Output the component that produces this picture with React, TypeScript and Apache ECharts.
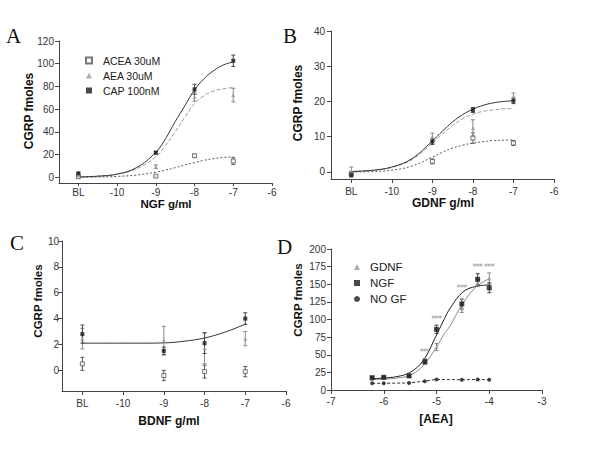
import React, { useEffect, useRef } from 'react';
import * as echarts from 'echarts';

const FONT = "'Liberation Sans', Arial, Helvetica, sans-serif";
const SERIF = "'Liberation Serif', 'Times New Roman', serif";

// ---------- Panels A-C: growth-factor concentration (log g/ml); BL drawn at -11 ----------
const doseX = [-11, -9, -8, -7];
const doseTicks = [-11, -10, -9, -8, -7, -6];
const fitX = [-11, -10.5, -10, -9.5, -9, -8.75, -8.5, -8.25, -8, -7.75, -7.5, -7.25, -7];

// Panel A (NGF)
const aceaA = [0.5, 1.1, 19, 14.3];
const aceaAErr = [0.8, 0.8, 1.2, 3];
const aeaA = [1.5, 9.3, 71, 72.4];
const aeaAErr = [0.8, 1.6, 4, 6];
const capA = [3.5, 21.7, 77.5, 102.6];
const capAErr = [0.8, 1.2, 4.4, 5];
const capFitA = [0.3, 1, 2.8, 8.5, 22, 34, 49, 63, 77, 87, 94, 99, 101.5];
const aeaFitA = [0.3, 1, 2.7, 7.5, 18, 28, 40, 53, 65, 72, 76, 78, 79];
const aceaFitA = [0.1, 0.3, 0.8, 2, 4.5, 6.3, 8.5, 10.8, 13, 15, 16.5, 17.5, 18];
const yTicksA = [0, 20, 40, 60, 80, 100, 120];

// Panel B (GDNF)
const aceaB = [-0.5, 3, 9.6, 8.2];
const aceaBErr = [0.6, 0.7, 1.5, 0.7];
const aeaB = [0, 10, 12.5, 21.4];
const aeaBErr = [1.4, 1, 2.3, 1];
const capB = [-0.8, 8.6, 17.6, 20.2];
const capBErr = [0.6, 0.8, 0.7, 0.8];
const capFitB = [0.15, 0.45, 1.4, 3.8, 8.8, 11.6, 14.2, 16.3, 17.8, 18.9, 19.6, 20, 20.2];
const aeaFitB = [0.15, 0.4, 1.3, 3.5, 8.2, 10.8, 13.2, 15.1, 16.4, 17.2, 17.6, 17.9, 18];
const aceaFitB = [0, 0.1, 0.5, 1.7, 4.2, 5.6, 6.8, 7.6, 8.2, 8.6, 8.9, 9, 9.1];
const yTicksB = [0, 10, 20, 30, 40];

// Panel C (BDNF)
const aceaC = [0.5, -0.4, -0.1, -0.1];
const aceaCErr = [0.5, 0.4, 0.5, 0.4];
const aeaC = [2.45, 2.3, 1.7, 2.45];
const aeaCErr = [0.8, 1.1, 1.2, 0.55];
const capC = [2.8, 1.5, 2.1, 4.0];
const capCErr = [0.7, 0.3, 0.8, 0.45];
const fitXC = [-11, -10, -9.5, -9, -8.5, -8, -7.5, -7];
const capFitC = [2.1, 2.1, 2.1, 2.12, 2.25, 2.5, 2.95, 3.57];
const yTicksC = [0, 2, 4, 6, 8, 10];

// ---------- Panel D: [AEA] (log M) ----------
const aeaX = [-6.22, -6, -5.52, -5.22, -5, -4.52, -4.22, -4];
const gdnfD = [16, 17.5, 22, 42, 61, 116, 152, 158];
const gdnfDErr = [1.5, 1.5, 2, 3, 5, 6, 5, 8];
const ngfD = [17.5, 18, 20, 40, 86, 122, 157, 145];
const ngfDErr = [1.5, 1.5, 2, 3, 6, 7, 8, 7];
const nogfD = [9.5, 9.5, 10, 12.5, 15, 14.5, 15, 14.5];
const fitXD = [-6.22, -6, -5.75, -5.5, -5.25, -5, -4.85, -4.75, -4.5, -4.25, -4];
const ngfFitD = [16, 17, 19, 25, 42, 78, 101, 115, 139, 147, 149];
const gdnfFitD = [15, 15.5, 17, 21, 35, 61, 80, 90, 123, 146, 158];
const sigX = [-5.22, -5, -4.52, -4.22, -4];
const sigY = [57, 104, 147, 177, 177];
const sigLabel = '###';

const DARK = '#1a1a1a';
const MID = '#555555';

const pairs = (xs: number[], ys: number[]) => xs.map((x, i) => [x, ys[i]]);
const triples = (xs: number[], ys: number[], es: number[]) => xs.map((x, i) => [x, ys[i], es[i]]);

const errRender = (color: string) => (params: any, api: any) => {
  const x = api.value(0);
  const y = api.value(1);
  const e = api.value(2);
  const p1 = api.coord([x, y + e]);
  const p2 = api.coord([x, y - e]);
  const w = 2;
  const style = { stroke: color, lineWidth: 1 };
  return {
    type: 'group',
    children: [
      { type: 'line', shape: { x1: p1[0], y1: p1[1], x2: p2[0], y2: p2[1] }, style },
      { type: 'line', shape: { x1: p1[0] - w, y1: p1[1], x2: p1[0] + w, y2: p1[1] }, style },
      { type: 'line', shape: { x1: p2[0] - w, y1: p2[1], x2: p2[0] + w, y2: p2[1] }, style },
    ],
  };
};

const errSeries = (idx: number, xs: number[], ys: number[], es: number[], color: string) => ({
  type: 'custom',
  xAxisIndex: idx,
  yAxisIndex: idx,
  renderItem: errRender(color),
  data: triples(xs, ys, es),
  encode: { x: 0, y: 1 },
  silent: true,
  z: 2,
});

const fitSeries = (idx: number, xs: number[], ys: number[], color: string, type: any, name: string) => ({
  name,
  type: 'line',
  xAxisIndex: idx,
  yAxisIndex: idx,
  data: pairs(xs, ys),
  smooth: 0.4,
  showSymbol: false,
  lineStyle: { color, width: 1, type },
  z: 1,
  silent: true,
});

const markerStyles: Record<string, any> = {
  acea: { symbol: 'rect', symbolSize: 4, itemStyle: { color: '#ffffff', borderColor: '#555', borderWidth: 1 } },
  aea: { symbol: 'triangle', symbolSize: 4, itemStyle: { color: '#999' } },
  cap: { symbol: 'rect', symbolSize: 4, itemStyle: { color: DARK } },
  gdnf: { symbol: 'triangle', symbolSize: 4, itemStyle: { color: '#999' } },
  ngf: { symbol: 'rect', symbolSize: 5, itemStyle: { color: DARK } },
  nogf: { symbol: 'circle', symbolSize: 4, itemStyle: { color: DARK } },
};

const pointSeries = (idx: number, name: string, kind: string, xs: number[], ys: number[]) => ({
  name,
  type: 'scatter',
  xAxisIndex: idx,
  yAxisIndex: idx,
  data: pairs(xs, ys),
  ...markerStyles[kind],
  z: 3,
});

const xAxisFor = (idx: number, min: number, max: number, ticks: number[], margin: number, bl: boolean, tickLen = 4) => ({
  type: 'value',
  gridIndex: idx,
  min,
  max,
  axisLine: { show: true, onZero: false, lineStyle: { color: '#444', width: 1 } },
  axisTick: { show: true, customValues: ticks, length: tickLen, lineStyle: { color: '#444' } },
  axisLabel: {
    customValues: ticks,
    margin,
    fontSize: 10,
    fontFamily: FONT,
    color: '#333',
    formatter: (v: number) => (bl && v === -11 ? 'BL' : String(v)),
  },
  splitLine: { show: false },
});

const yAxisFor = (idx: number, min: number, max: number, ticks: number[], margin: number) => ({
  type: 'value',
  gridIndex: idx,
  min,
  max,
  axisLine: { show: true, onZero: false, lineStyle: { color: '#444', width: 1 } },
  axisTick: { show: true, customValues: ticks, length: 4, lineStyle: { color: '#444' } },
  axisLabel: { customValues: ticks, margin, fontSize: 10, fontFamily: FONT, color: '#333' },
  splitLine: { show: false },
});

const titleText = (text: string, x: number, y: number, rotate: boolean, size: number) => ({
  type: 'text',
  x,
  y,
  rotation: rotate ? Math.PI / 2 : 0,
  style: {
    text,
    fontFamily: FONT,
    fontWeight: 'bold',
    fontSize: size,
    fill: '#111',
    align: 'center',
    verticalAlign: 'middle',
  },
  silent: true,
});

const letter = (text: string, x: number, y: number) => ({
  type: 'text',
  x,
  y,
  style: { text, fontFamily: SERIF, fontSize: 21, fill: '#111', align: 'left', verticalAlign: 'middle' },
  silent: true,
});

export default function App() {
  const ref = useRef<HTMLDivElement>(null);

  useEffect(() => {
    if (!ref.current) return;
    const chart = echarts.init(ref.current, null, { renderer: 'svg' });
    const option: any = {
      animation: false,
      backgroundColor: '#ffffff',
      grid: [
        { left: 59, top: 41, width: 213, height: 142 },
        { left: 331, top: 31, width: 223, height: 148 },
        { left: 62, top: 241, width: 224, height: 150 },
        { left: 331, top: 249, width: 211, height: 141 },
      ],
      xAxis: [
        xAxisFor(0, -11.5, -6, doseTicks, 4, true, 3),
        xAxisFor(1, -11.5, -6, doseTicks, 7, true),
        xAxisFor(2, -11.5, -6, doseTicks, 7, true),
        xAxisFor(3, -7, -3, [-7, -6, -5, -4, -3], 6, false),
      ],
      yAxis: [
        yAxisFor(0, -5, 120, yTicksA, 5),
        yAxisFor(1, -2, 40, yTicksB, 6),
        yAxisFor(2, -1.6, 10, yTicksC, 3),
        yAxisFor(3, 0, 200, [0, 25, 50, 75, 100, 125, 150, 175, 200], 5),
      ],
      legend: [
        {
          data: ['ACEA 30uM', 'AEA 30uM', 'CAP 100nM'],
          orient: 'vertical',
          left: 85,
          top: 55,
          padding: 0,
          itemWidth: 6,
          itemHeight: 6,
          itemGap: 4,
          selectedMode: false,
          textStyle: { fontSize: 10.5, fontFamily: FONT, color: '#222', padding: [0, 0, 0, 6] },
        },
        {
          data: ['GDNF', 'NGF', 'NO GF'],
          orient: 'vertical',
          left: 354,
          top: 261,
          padding: 0,
          itemWidth: 6,
          itemHeight: 6,
          itemGap: 4,
          selectedMode: false,
          textStyle: { fontSize: 11.5, fontFamily: FONT, color: '#222', padding: [0, 0, 0, 5] },
        },
      ],
      graphic: [
        letter('A', 6, 36),
        letter('B', 283, 36),
        letter('C', 10, 243),
        letter('D', 277, 247),
        titleText('CGRP fmoles', 29, 111, true, 12),
        titleText('NGF g/ml', 166, 204, false, 11.5),
        titleText('CGRP fmoles', 298, 103, true, 12),
        titleText('GDNF g/ml', 443, 203, false, 12),
        titleText('CGRP fmoles', 38, 301, true, 11.5),
        titleText('BDNF g/ml', 169, 421, false, 12),
        titleText('CGRP fmoles', 298, 300, true, 11.5),
        titleText('[AEA]', 436, 419, false, 12),
      ],
      series: [
        // Panel A
        fitSeries(0, fitX, aceaFitA, MID, [2, 2], 'fitA1'),
        fitSeries(0, fitX, aeaFitA, '#9a9a9a', [4, 2], 'fitA2'),
        fitSeries(0, fitX, capFitA, '#333', 'solid', 'fitA3'),
        errSeries(0, doseX, aceaA, aceaAErr, '#666'),
        errSeries(0, doseX, aeaA, aeaAErr, '#888'),
        errSeries(0, doseX, capA, capAErr, '#444'),
        pointSeries(0, 'ACEA 30uM', 'acea', doseX, aceaA),
        pointSeries(0, 'AEA 30uM', 'aea', doseX, aeaA),
        pointSeries(0, 'CAP 100nM', 'cap', doseX, capA),
        // Panel B
        fitSeries(1, fitX, aceaFitB, MID, [2, 2], 'fitB1'),
        fitSeries(1, fitX, aeaFitB, '#9a9a9a', [4, 2], 'fitB2'),
        fitSeries(1, fitX, capFitB, '#333', 'solid', 'fitB3'),
        errSeries(1, doseX, aceaB, aceaBErr, '#666'),
        errSeries(1, doseX, aeaB, aeaBErr, '#888'),
        errSeries(1, doseX, capB, capBErr, '#444'),
        pointSeries(1, 'ACEA B', 'acea', doseX, aceaB),
        pointSeries(1, 'AEA B', 'aea', doseX, aeaB),
        pointSeries(1, 'CAP B', 'cap', doseX, capB),
        // Panel C
        fitSeries(2, fitXC, capFitC, '#333', 'solid', 'fitC'),
        errSeries(2, doseX, aceaC, aceaCErr, '#555'),
        errSeries(2, doseX, aeaC, aeaCErr, '#888'),
        errSeries(2, doseX, capC, capCErr, '#444'),
        pointSeries(2, 'ACEA C', 'acea', doseX, aceaC),
        pointSeries(2, 'AEA C', 'aea', doseX, aeaC),
        pointSeries(2, 'CAP C', 'cap', doseX, capC),
        // Panel D
        fitSeries(3, fitXD, gdnfFitD, '#8a8a8a', 'solid', 'fitD1'),
        fitSeries(3, fitXD, ngfFitD, '#222', 'solid', 'fitD2'),
        {
          name: 'NO GF line',
          type: 'line',
          xAxisIndex: 3,
          yAxisIndex: 3,
          data: pairs(aeaX, nogfD),
          showSymbol: false,
          lineStyle: { color: '#333', width: 1, type: [3, 2] },
          silent: true,
          z: 1,
        },
        errSeries(3, aeaX, gdnfD, gdnfDErr, '#888'),
        errSeries(3, aeaX, ngfD, ngfDErr, '#444'),
        pointSeries(3, 'GDNF', 'gdnf', aeaX, gdnfD),
        pointSeries(3, 'NGF', 'ngf', aeaX, ngfD),
        pointSeries(3, 'NO GF', 'nogf', aeaX, nogfD),
        {
          name: 'significance',
          type: 'scatter',
          xAxisIndex: 3,
          yAxisIndex: 3,
          data: pairs(sigX, sigY),
          symbolSize: 0,
          silent: true,
          labelLayout: { hideOverlap: false },
          label: {
            show: true,
            position: 'inside',
            formatter: () => sigLabel,
            fontSize: 6,
            fontStyle: 'italic',
            fontFamily: FONT,
            color: '#777',
          },
        },
      ],
    };
    chart.setOption(option);
    return () => chart.dispose();
  }, []);

  return <div ref={ref} style={{ position: 'absolute', left: 0, top: 0, width: 600, height: 451 }} />;
}
